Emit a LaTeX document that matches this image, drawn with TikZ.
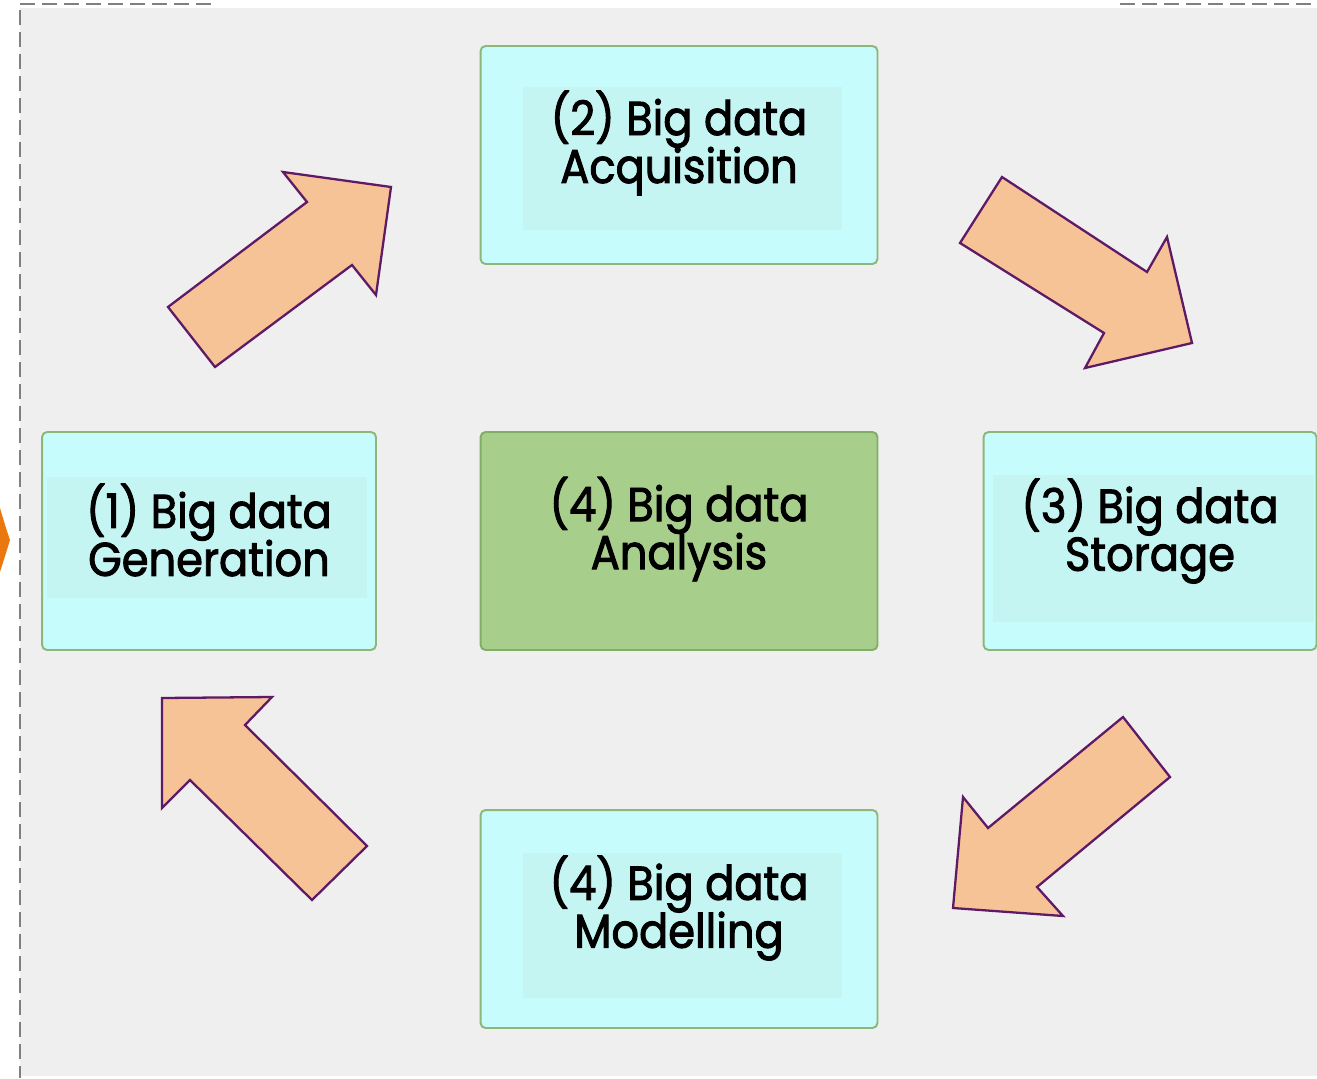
\documentclass[tikz,border=0pt]{standalone}
\usepackage{fontspec}
\newfontfamily\labelfont[FakeStretch=0.91, FakeBold=2]{Poppins}
\newcommand\stagefont{\labelfont\fontsize{27}{27.3}\selectfont\lineskiplimit=-30pt\relax\lineskip=0pt\relax}
\definecolor{bggrey}{HTML}{EFEFEF}
\definecolor{boxfill}{HTML}{C6FCFC}
\definecolor{innerfill}{HTML}{C5F5F3}
\definecolor{boxedge}{HTML}{8DB67A}
\definecolor{greenfill}{HTML}{A8CE8C}
\definecolor{greenedge}{HTML}{7FAE64}
\definecolor{arrowfill}{HTML}{F6C396}
\definecolor{arrowedge}{HTML}{5E1A66}
\definecolor{dashgrey}{HTML}{808080}
\definecolor{orangemark}{HTML}{E8780F}
\begin{document}
\begin{tikzpicture}[x=0.02cm,y=-0.02cm,
  stagebox/.style={draw=boxedge, fill=boxfill, line width=1.1pt, rounded corners=0.1cm, inner sep=0pt, minimum height=4.36cm},
  widebox/.style={stagebox, minimum width=7.94cm},
  greenbox/.style={widebox, draw=greenedge, fill=greenfill},
  innerpanel/.style={fill=innerfill},
  stagetext/.style={font=\stagefont, align=center, text=black, inner sep=0pt},
  blockarrow/.style={fill=arrowfill, draw=arrowedge, line width=1.3pt, line join=miter},
  frameline/.style={draw=dashgrey, line width=1.3pt, dash pattern=on 0.3cm off 0.14cm}
]
\useasboundingbox (0,0) rectangle (1317,1078);
\fill[white] (0,0) rectangle (1317,1078);
\fill[bggrey] (20,8) rectangle (1317,1076);
% dashed frame
\draw[frameline] (20,10) -- (20,1078);
\draw[frameline] (20,4) -- (216,4);
\draw[frameline] (1120,4) -- (1313,4);
% orange partial shape
\fill[orangemark] (0,508) -- (6,528) -- (10,540) -- (6,553) -- (0,572) -- cycle;

% boxes
\node[stagebox, minimum width=6.68cm] (b1) at (209,541) {};
\node[widebox] (b2) at (679,155) {};
\node[stagebox, minimum width=6.66cm] (b3) at (1150,541) {};
\node[greenbox] (b4) at (679,541) {};
\node[widebox] (b5) at (679,919) {};

% inner panels
\fill[innerpanel] (47,477) rectangle (367,598);
\fill[innerpanel] (523,87) rectangle (842,230);
\fill[innerpanel] (993,475) rectangle (1314,622);
\fill[innerpanel] (523,853) rectangle (842,998);

% texts
\node[stagetext] (t1) at ([yshift=0.22cm]b1.center) {(1) Big data\\Generation};
\node[stagetext] (t2) at ([yshift=0.24cm]b2.center) {(2) Big data\\Acquisition};
\node[stagetext] (t3) at ([yshift=0.2cm]b3.center) {(3) Big data\\Storage};
\node[stagetext] (t4) at ([yshift=0.24cm]b4.center) {(4) Big data\\Analysis};
\node[stagetext] (t5) at ([yshift=0.22cm]b5.center) {(4) Big data\\Modelling};

% block arrows
\draw[blockarrow] (168,307) -- (307,202) -- (283,172) -- (391,187) -- (376,295) -- (352,265) -- (215,367) -- cycle;
\draw[blockarrow] (1002,177) -- (1147,272) -- (1167,237) -- (1192,343) -- (1085,368) -- (1104,333) -- (960,243) -- cycle;
\draw[blockarrow] (1123,717) -- (1170,777) -- (1037,887) -- (1063,916) -- (953,908) -- (963,797) -- (988,828) -- cycle;
\draw[blockarrow] (162,698) -- (272,697) -- (245,725) -- (367,846) -- (312,900) -- (190,780) -- (162,808) -- cycle;
\end{tikzpicture}
\end{document}
